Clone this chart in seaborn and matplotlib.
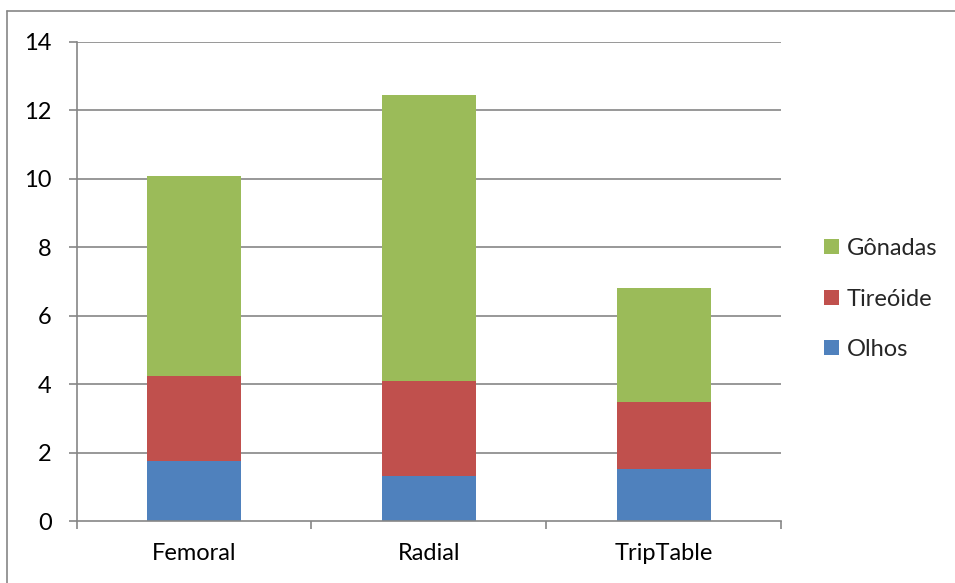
import matplotlib
matplotlib.use("Agg")
import matplotlib.pyplot as plt
from matplotlib.patches import Patch
from matplotlib.lines import Line2D
import numpy as np
import pandas as pd
import seaborn as sns

categories = ["Femoral", "Radial", "TripTable"]
olhos = [1.74, 1.31, 1.52]
tireoide = [2.50, 2.78, 1.96]
gonadas = [5.85, 8.36, 3.32]
series_names = ["Olhos", "Tireóide", "Gônadas"]
colors = {"Olhos": "#4F81BD", "Tireóide": "#C0504D", "Gônadas": "#9BBB59"}
yticks = [0, 2, 4, 6, 8, 10, 12, 14]

sns.set_theme(style="white")
plt.rcParams["font.family"] = ["Lato", "DejaVu Sans"]
FS = 17

df = pd.DataFrame({"categoria": categories, "Olhos": olhos,
                   "Tireóide": tireoide, "Gônadas": gonadas})
# cumulative tops for the stacked layers
df["top_Olhos"] = df["Olhos"]
df["top_Tireóide"] = df["Olhos"] + df["Tireóide"]
df["top_Gônadas"] = df["top_Tireóide"] + df["Gônadas"]

W, H = 955, 583
fig = plt.figure(figsize=(W / 100, H / 100), dpi=100)
ax = fig.add_axes([76.5 / W, 1 - 521 / H, (781 - 76.5) / W, (521 - 42) / H])

grid_c = "#868686"
for y in yticks[1:]:
    ax.axhline(y, color=grid_c, lw=1.2, zorder=0)

# draw tallest layer first so lower layers sit on top
for name in reversed(series_names):
    sns.barplot(data=df, x="categoria", y=f"top_{name}", color=colors[name],
                width=0.4, saturation=1, ax=ax, zorder=2, linewidth=0)

ax.set_xlim(-0.5, 2.5)
ax.set_ylim(0, 14)
ax.set_yticks(yticks)
ax.set_xlabel("")
ax.set_ylabel("")

for s in ["top", "right"]:
    ax.spines[s].set_visible(False)
for s in ["left", "bottom"]:
    ax.spines[s].set_color(grid_c)
    ax.spines[s].set_linewidth(1.2)
    ax.spines[s].set_zorder(3)

ax.tick_params(axis="y", which="major", left=True, length=6, width=1.2,
               color=grid_c, pad=12, labelsize=FS, labelcolor="black")
ax.set_xticks([-0.5, 0.5, 1.5, 2.5], minor=True)
ax.tick_params(axis="x", which="minor", bottom=True, length=6, width=1.2,
               color=grid_c)
ax.tick_params(axis="x", which="major", bottom=False, length=0, pad=16,
               labelsize=FS, labelcolor="black")
ax.set_xticklabels(categories)

handles = [Patch(facecolor=colors[n], edgecolor="none") for n in reversed(series_names)]
fig.legend(handles, list(reversed(series_names)), loc="center left",
           bbox_to_anchor=(824 / W, 1 - 299 / H), frameon=False, borderpad=0,
           borderaxespad=0, fontsize=FS, handlelength=0.62, handleheight=0.62,
           handletextpad=0.35, labelspacing=1.25)

# outer chart frame
fig.add_artist(Line2D([6.5 / W, 6.5 / W], [0, 1 - 10.5 / H], transform=fig.transFigure,
                      color=grid_c, lw=1.2))
fig.add_artist(Line2D([6.5 / W, 1], [1 - 10.5 / H, 1 - 10.5 / H], transform=fig.transFigure,
                      color=grid_c, lw=1.2))

fig.savefig("out.png", dpi=100)
